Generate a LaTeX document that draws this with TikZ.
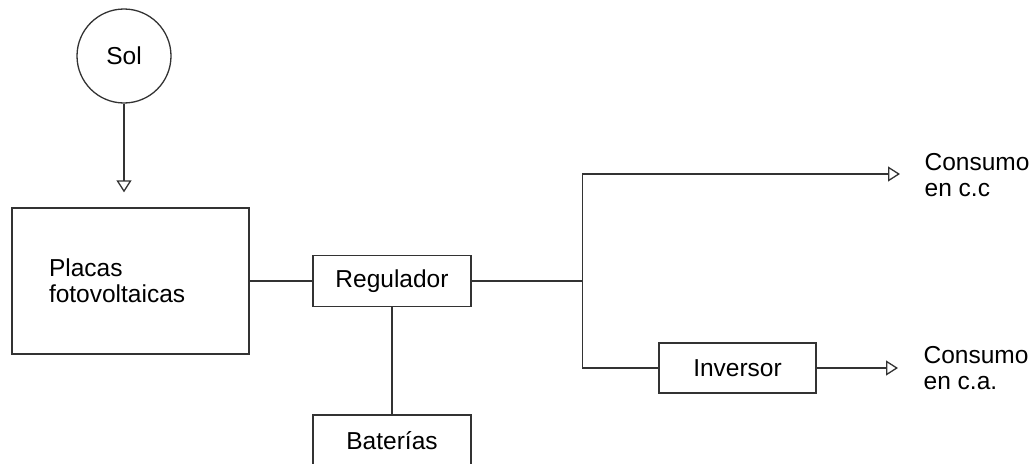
\documentclass[tikz,border=0pt]{standalone}
\usepackage{fontspec}
\setmainfont{Liberation Sans}
\usetikzlibrary{arrows.meta}
\begin{document}
\begin{tikzpicture}[x=1pt,y=-1pt,
  line width=1.3pt, draw=black!80,
  box/.style={draw, rectangle, inner sep=0pt, font=\fontsize{24.5}{26}\selectfont},
  lbl/.style={inner sep=0pt, align=left, anchor=west, font=\fontsize{24.5}{26}\selectfont},
  arr/.style={-{Triangle[open,length=12pt,width=15pt]}},
  wire/.style={draw=black!80}]
\clip (0,0) rectangle (1035,463);
\useasboundingbox (0,0) rectangle (1035,463);
\node[draw, circle, minimum size=94pt, inner sep=0pt, font=\fontsize{24.5}{26}\selectfont] (sol) at (124,56) {Sol};
\node[box, minimum width=237pt, minimum height=146pt, text width=163pt, align=left] (placas) at (130.5,281) {Placas\\fotovoltaicas};
\node[box, minimum width=158pt, minimum height=51pt] (reg) at (392,281) {Regulador};
\node[box, minimum width=158pt, minimum height=51pt] (bat) at (392,440.5) {Baterías};
\node[box, minimum width=157pt, minimum height=50pt] (inv) at (737.5,368) {Inversor};
\coordinate (j) at (582.5,281);
\coordinate (ccend) at (900,174);
\coordinate (caend) at (898,368);
\node[lbl] (cc) at (924,175) {Consumo\\en c.c};
\node[lbl] (ca) at (923,368) {Consumo\\en c.a.};
\draw[wire, arr, shorten >=15pt] (sol.south) -- (sol.south |- placas.north);
\draw[wire] (placas.east |- reg.west) -- (reg.west);
\draw[wire] (reg.south) -- (bat.north);
\draw[wire] (reg.east) -- (j);
\draw[wire, arr] (j) |- (ccend);
\draw[wire] (j) |- (inv.west);
\draw[wire, arr] (inv.east) -- (caend);
\end{tikzpicture}
\end{document}
